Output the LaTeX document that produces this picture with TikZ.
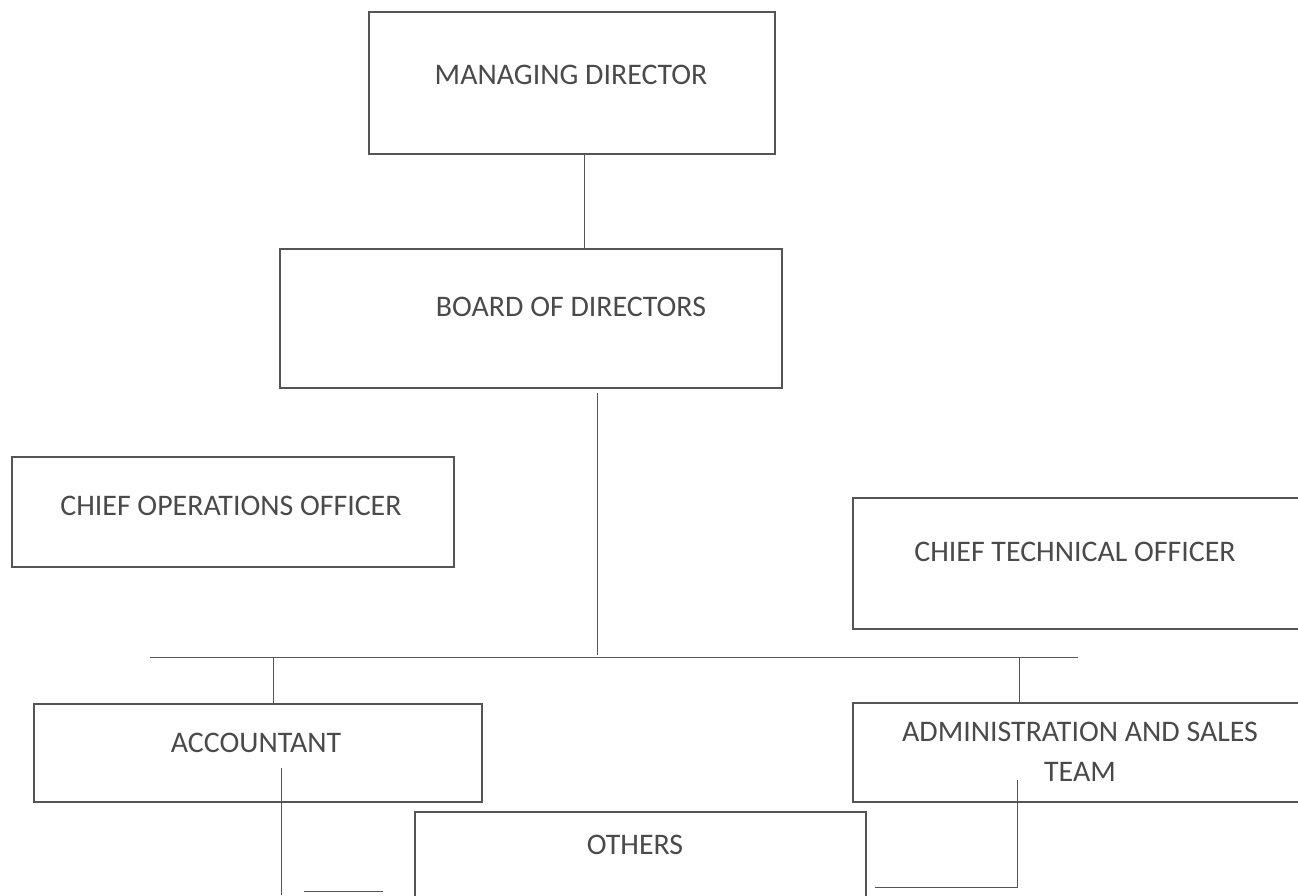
\documentclass[tikz,border=0pt]{standalone}
\usepackage{fontspec}
\setmainfont{Carlito}
\definecolor{inkgray}{HTML}{4A4A4A}
\definecolor{rulegray}{HTML}{555555}
\tikzset{
  box/.style={draw=rulegray, line width=1.3pt, anchor=north west, inner sep=0pt},
  lbl/.style={text=inkgray, font=\fontsize{17}{22.7}\selectfont, align=center, inner sep=0pt},
  wire/.style={draw=rulegray, line width=0.5pt}
}
\begin{document}
\begin{tikzpicture}
\useasboundingbox (0,0) rectangle (25.96,-17.9);
\begin{scope}
\clip (0,0) rectangle (25.96,-17.9);
% top of the chart
\node[box, minimum width=8.12cm, minimum height=2.84cm] (md) at (7.36,-0.22) {};
\node[lbl] (mdtext) at (11.42,-1.50) {MANAGING DIRECTOR};
%
\node[box, minimum width=10.04cm, minimum height=2.78cm] (board) at (5.58,-4.96) {};
\node[lbl] (boardtext) at (11.42,-6.14) {BOARD OF DIRECTORS};
%
\node[box, minimum width=8.84cm, minimum height=2.20cm] (coo) at (0.22,-9.12) {};
\node[lbl] (cootext) at (4.62,-10.12) {CHIEF OPERATIONS OFFICER};
%
\node[box, minimum width=9.10cm, minimum height=2.62cm] (cto) at (17.04,-9.94) {};
\node[lbl] (ctotext) at (21.50,-11.04) {CHIEF TECHNICAL OFFICER};
%
\node[box, minimum width=8.96cm, minimum height=1.96cm] (acc) at (0.66,-14.06) {};
\node[lbl] (acctext) at (5.12,-14.86) {ACCOUNTANT};
%
\node[box, minimum width=9.10cm, minimum height=1.98cm] (admin) at (17.04,-14.04) {};
\node[lbl] (admintext) at (21.60,-15.04) {ADMINISTRATION AND SALES\\TEAM};
%
\node[box, minimum width=9.02cm, minimum height=2.20cm] (others) at (8.28,-16.22) {};
\node[lbl] (otherstext) at (12.70,-16.90) {OTHERS};
%
% connector ends
\coordinate (mdfoot) at (11.68,-3.06);
\coordinate (boardhead) at (11.68,-4.96);
\coordinate (boardfoot) at (11.94,-7.86);
\coordinate (busmid) at (11.94,-13.10);
\coordinate (busleft) at (3.00,-13.14);
\coordinate (busright) at (21.56,-13.14);
\coordinate (accdrop) at (5.46,-13.14);
\coordinate (acchead) at (5.46,-14.06);
\coordinate (admindrop) at (20.38,-13.14);
\coordinate (adminhead) at (20.38,-14.04);
\coordinate (acctail) at (5.62,-15.36);
\coordinate (accend) at (5.62,-17.90);
\coordinate (stubleft) at (6.08,-17.82);
\coordinate (stubright) at (7.66,-17.82);
\coordinate (admintail) at (20.34,-15.60);
\coordinate (adminbend) at (20.34,-17.74);
\coordinate (adminend) at (17.50,-17.74);
%
\draw[wire] (mdfoot) -- (boardhead);
\draw[wire] (boardfoot) -- (busmid);
\draw[wire] (busleft) -- (busright);
\draw[wire] (accdrop) -- (acchead);
\draw[wire] (admindrop) -- (adminhead);
\draw[wire] (acctail) -- (accend);
\draw[wire] (stubleft) -- (stubright);
\draw[wire] (admintail) -- (adminbend) -- (adminend);
\end{scope}
\end{tikzpicture}
\end{document}
